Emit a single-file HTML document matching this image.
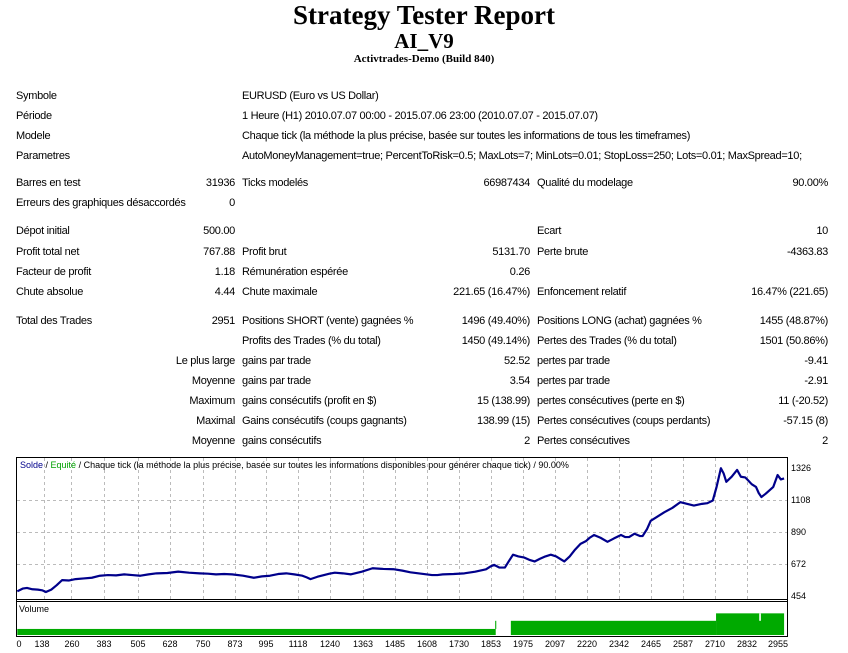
<!DOCTYPE html>
<html><head><meta charset="utf-8"><style>
body{margin:0;width:848px;height:653px;background:#fff;position:relative;overflow:hidden;font-family:"Liberation Sans",Arial,sans-serif;font-size:11px;color:#000}
.t{position:absolute;white-space:nowrap;line-height:13px;letter-spacing:-0.3px}
.a{left:16px}.b{left:242px}.c{left:537px}
.rb{right:613px;text-align:right}.rc{right:318px;text-align:right}.rd{right:20px;text-align:right}
h1,h2,h3{position:absolute;left:0;width:848px;text-align:center;margin:0;font-family:"Liberation Serif",serif;font-weight:bold}
</style></head><body>
<h1 style="top:0;font-size:27px">Strategy Tester Report</h1>
<h2 style="top:29px;font-size:21px">AI_V9</h2>
<h3 style="top:53px;font-size:11px">Activtrades-Demo (Build 840)</h3>

<div class="t a" style="top:90px">Symbole</div><div class="t b" style="top:90px">EURUSD (Euro vs US Dollar)</div>
<div class="t a" style="top:110px">Période</div><div class="t b" style="top:110px">1 Heure (H1) 2010.07.07 00:00 - 2015.07.06 23:00 (2010.07.07 - 2015.07.07)</div>
<div class="t a" style="top:130px">Modele</div><div class="t b" style="top:130px">Chaque tick (la méthode la plus précise, basée sur toutes les informations de tous les timeframes)</div>
<div class="t a" style="top:150px">Parametres</div><div class="t b" style="top:150px">AutoMoneyManagement=true; PercentToRisk=0.5; MaxLots=7; MinLots=0.01; StopLoss=250; Lots=0.01; MaxSpread=10;</div>

<div class="t a" style="top:177px">Barres en test</div><div class="t rb" style="top:177px">31936</div><div class="t b" style="top:177px">Ticks modelés</div><div class="t rc" style="top:177px">66987434</div><div class="t c" style="top:177px">Qualité du modelage</div><div class="t rd" style="top:177px">90.00%</div>
<div class="t a" style="top:197px">Erreurs des graphiques désaccordés</div><div class="t rb" style="top:197px">0</div>

<div class="t a" style="top:225px">Dépot initial</div><div class="t rb" style="top:225px">500.00</div><div class="t c" style="top:225px">Ecart</div><div class="t rd" style="top:225px">10</div>
<div class="t a" style="top:246px">Profit total net</div><div class="t rb" style="top:246px">767.88</div><div class="t b" style="top:246px">Profit brut</div><div class="t rc" style="top:246px">5131.70</div><div class="t c" style="top:246px">Perte brute</div><div class="t rd" style="top:246px">-4363.83</div>
<div class="t a" style="top:266px">Facteur de profit</div><div class="t rb" style="top:266px">1.18</div><div class="t b" style="top:266px">Rémunération espérée</div><div class="t rc" style="top:266px">0.26</div>
<div class="t a" style="top:286px">Chute absolue</div><div class="t rb" style="top:286px">4.44</div><div class="t b" style="top:286px">Chute maximale</div><div class="t rc" style="top:286px">221.65 (16.47%)</div><div class="t c" style="top:286px">Enfoncement relatif</div><div class="t rd" style="top:286px">16.47% (221.65)</div>

<div class="t a" style="top:315px">Total des Trades</div><div class="t rb" style="top:315px">2951</div><div class="t b" style="top:315px">Positions SHORT (vente) gagnées %</div><div class="t rc" style="top:315px">1496 (49.40%)</div><div class="t c" style="top:315px">Positions LONG (achat) gagnées %</div><div class="t rd" style="top:315px">1455 (48.87%)</div>
<div class="t b" style="top:335px">Profits des Trades (% du total)</div><div class="t rc" style="top:335px">1450 (49.14%)</div><div class="t c" style="top:335px">Pertes des Trades (% du total)</div><div class="t rd" style="top:335px">1501 (50.86%)</div>
<div class="t rb" style="top:355px">Le plus large</div><div class="t b" style="top:355px">gains par trade</div><div class="t rc" style="top:355px">52.52</div><div class="t c" style="top:355px">pertes par trade</div><div class="t rd" style="top:355px">-9.41</div>
<div class="t rb" style="top:375px">Moyenne</div><div class="t b" style="top:375px">gains par trade</div><div class="t rc" style="top:375px">3.54</div><div class="t c" style="top:375px">pertes par trade</div><div class="t rd" style="top:375px">-2.91</div>
<div class="t rb" style="top:395px">Maximum</div><div class="t b" style="top:395px">gains consécutifs (profit en $)</div><div class="t rc" style="top:395px">15 (138.99)</div><div class="t c" style="top:395px">pertes consécutives (perte en $)</div><div class="t rd" style="top:395px">11 (-20.52)</div>
<div class="t rb" style="top:415px">Maximal</div><div class="t b" style="top:415px">Gains consécutifs (coups gagnants)</div><div class="t rc" style="top:415px">138.99 (15)</div><div class="t c" style="top:415px">Pertes consécutives (coups perdants)</div><div class="t rd" style="top:415px">-57.15 (8)</div>
<div class="t rb" style="top:435px">Moyenne</div><div class="t b" style="top:435px">gains consécutifs</div><div class="t rc" style="top:435px">2</div><div class="t c" style="top:435px">Pertes consécutives</div><div class="t rd" style="top:435px">2</div>

<svg style="position:absolute;left:0;top:0" width="848" height="653">
<g font-family="Liberation Sans,sans-serif" font-size="9" fill="#000">
<g stroke="#bbb" stroke-dasharray="3,3">
<line x1="17" y1="500.5" x2="787" y2="500.5"/><line x1="17" y1="532.5" x2="787" y2="532.5"/><line x1="17" y1="564.5" x2="787" y2="564.5"/>
<line x1="44.5" y1="458" x2="44.5" y2="599"/><line x1="71.5" y1="458" x2="71.5" y2="599"/><line x1="104.5" y1="458" x2="104.5" y2="599"/><line x1="138.5" y1="458" x2="138.5" y2="599"/><line x1="170.5" y1="458" x2="170.5" y2="599"/><line x1="203.5" y1="458" x2="203.5" y2="599"/><line x1="235.5" y1="458" x2="235.5" y2="599"/><line x1="266.5" y1="458" x2="266.5" y2="599"/><line x1="298.5" y1="458" x2="298.5" y2="599"/><line x1="330.5" y1="458" x2="330.5" y2="599"/><line x1="363.5" y1="458" x2="363.5" y2="599"/><line x1="395.5" y1="458" x2="395.5" y2="599"/><line x1="427.5" y1="458" x2="427.5" y2="599"/><line x1="459.5" y1="458" x2="459.5" y2="599"/><line x1="491.5" y1="458" x2="491.5" y2="599"/><line x1="523.5" y1="458" x2="523.5" y2="599"/><line x1="555.5" y1="458" x2="555.5" y2="599"/><line x1="587.5" y1="458" x2="587.5" y2="599"/><line x1="619.5" y1="458" x2="619.5" y2="599"/><line x1="651.5" y1="458" x2="651.5" y2="599"/><line x1="683.5" y1="458" x2="683.5" y2="599"/><line x1="715.5" y1="458" x2="715.5" y2="599"/><line x1="747.5" y1="458" x2="747.5" y2="599"/>
</g>
<text x="20" y="468"><tspan fill="#00008b">Solde</tspan> / <tspan fill="#00a000">Equité</tspan> / Chaque tick (la méthode la plus précise, basée sur toutes les informations disponibles pour générer chaque tick) / 90.00%</text>
<g transform="translate(0,453) scale(0.54,0.339)">
<polyline fill="none" stroke="#00008b" stroke-width="2.2" vector-effect="non-scaling-stroke" stroke-linejoin="round" points="32,408 42,400 50,398 60,402 70,403 78,405 85,410 95,403 105,390 115,375 128,376 140,372 155,370 170,368 185,362 200,360 215,361 230,358 245,360 260,362 275,358 290,355 310,354 330,350 350,353 370,355 385,356 400,358 415,357 430,358 450,362 470,368 485,364 500,362 515,357 530,355 545,358 560,362 568,367 575,372 588,365 600,360 610,356 620,353 635,355 650,358 670,350 690,340 710,342 730,343 745,347 760,352 780,356 800,360 810,360 820,358 840,357 860,355 880,350 900,343 908,335 915,330 925,338 935,338 942,320 950,300 960,305 970,308 980,315 990,320 1000,312 1010,305 1020,300 1030,305 1045,320 1055,305 1065,285 1075,268 1085,260 1092,250 1100,242 1112,250 1125,262 1137,252 1150,242 1158,248 1165,248 1175,238 1185,245 1190,245 1198,225 1205,200 1215,190 1230,175 1245,162 1260,145 1272,150 1285,155 1300,150 1310,148 1320,140 1327,100 1335,45 1340,60 1345,85 1355,70 1365,50 1372,70 1380,72 1385,80 1392,92 1400,100 1405,118 1410,130 1418,120 1425,110 1432,100 1440,65 1446,78 1452,75"/>
<rect x="32" y="519" width="886" height="18" fill="#00aa00"/>
<rect x="917" y="495" width="2" height="24" fill="#00aa00"/>
<rect x="946" y="495" width="380" height="42" fill="#00aa00"/>
<rect x="1326" y="473" width="126" height="64" fill="#00aa00"/>
<rect x="1406" y="473" width="3" height="22" fill="#fff"/>
</g>
<rect x="16.5" y="457.5" width="771" height="179" fill="none" stroke="#000"/>
<line x1="16" y1="599.5" x2="788" y2="599.5" stroke="#000"/>
<line x1="16" y1="601.5" x2="788" y2="601.5" stroke="#000"/>
<text x="791" y="471">1326</text><text x="791" y="503">1108</text><text x="791" y="535">890</text><text x="791" y="567">672</text><text x="791" y="599">454</text>
<text x="19" y="612">Volume</text>
<g text-anchor="middle">
<text x="19" y="647">0</text><text x="42" y="647">138</text><text x="72" y="647">260</text><text x="104" y="647">383</text><text x="138" y="647">505</text><text x="170" y="647">628</text><text x="203" y="647">750</text><text x="235" y="647">873</text><text x="266" y="647">995</text><text x="298" y="647">1118</text><text x="330" y="647">1240</text><text x="363" y="647">1363</text><text x="395" y="647">1485</text><text x="427" y="647">1608</text><text x="459" y="647">1730</text><text x="491" y="647">1853</text><text x="523" y="647">1975</text><text x="555" y="647">2097</text><text x="587" y="647">2220</text><text x="619" y="647">2342</text><text x="651" y="647">2465</text><text x="683" y="647">2587</text><text x="715" y="647">2710</text><text x="747" y="647">2832</text><text x="778" y="647">2955</text>
</g>
</g>
</svg>
</body></html>
